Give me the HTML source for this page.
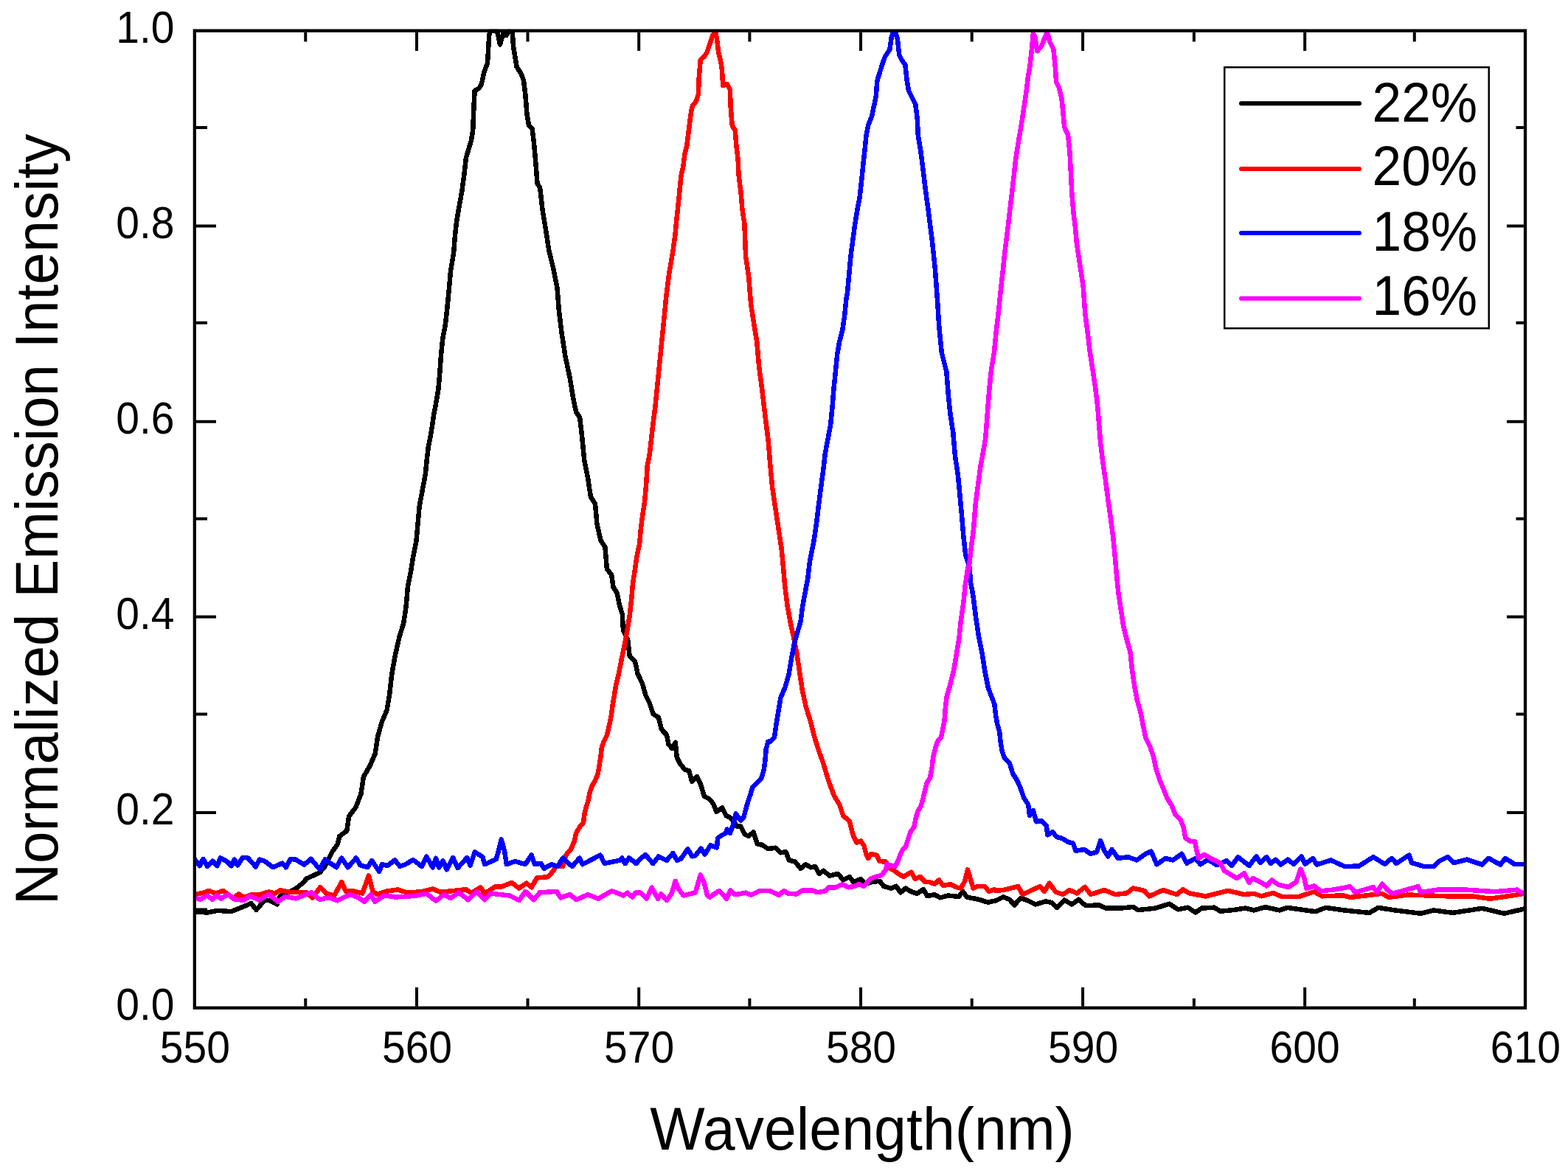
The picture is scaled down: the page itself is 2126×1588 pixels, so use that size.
<!DOCTYPE html><html><head><meta charset="utf-8"><title>Normalized Emission Intensity vs Wavelength</title>
<style>html,body{margin:0;padding:0;background:#fff;}svg{display:block;}text{font-family:"Liberation Sans",Arial,sans-serif;fill:#000;}</style></head><body>
<svg width="2126" height="1588" viewBox="0 0 2126 1588">
<rect width="2126" height="1588" fill="#fff"/>
<defs><clipPath id="pc"><rect x="263.85" y="39.65" width="1804.20" height="1327.15"/></clipPath></defs>
<g fill="none" stroke-width="6.5" stroke-linejoin="round" stroke-linecap="round" clip-path="url(#pc)" shape-rendering="crispEdges">
<path d="M264.2 1236.2L281.2 1237.6L295.3 1234.8L313.6 1236.2L323.5 1232.0L334.8 1227.7L340.4 1224.9L347.5 1234.0L358.8 1220.6L365.8 1221.3L375.7 1226.3L380.0 1215.0L401.1 1205.1L412.4 1196.0L415.2 1191.7L433.6 1183.3L440.6 1174.8L446.3 1163.5L450.5 1155.0L457.5 1145.2L460.4 1133.9L470.2 1126.8L471.7 1116.9L473.1 1107.1L482.7 1094.4L489.5 1076.3L492.9 1053.6L501.9 1037.8L508.7 1021.9L512.1 999.3L517.8 978.9L524.6 963.0L528.0 942.6L531.4 913.2L535.9 888.2L541.6 863.3L547.2 845.2L550.6 822.5L552.9 795.3L557.4 772.7L559.6 758.3L564.4 734.3L566.3 712.8L568.7 686.4L572.7 664.9L576.8 643.3L578.7 624.2L580.6 607.4L584.7 585.9L588.3 561.9L591.9 542.8L594.3 528.4L596.0 509.3L597.9 482.9L600.3 459.0L603.9 439.9L606.3 418.3L608.5 396.0L611.0 367.8L615.2 342.1L616.8 321.2L619.1 300.2L623.1 276.9L626.1 260.6L629.6 235.0L631.9 214.0L635.4 202.4L638.9 190.7L641.2 176.8L642.4 146.5L643.6 123.2L649.4 119.7L652.9 113.9L656.4 97.6L661.0 85.9L662.2 64.9L663.4 46.3L665.0 42.0L674.0 42.0L678.0 60.3L683.0 43.0L686.5 48.0L690.0 42.0L694.8 44.0L696.0 62.6L698.3 76.6L700.6 90.6L706.5 99.9L710.0 109.2L712.3 127.8L714.6 155.8L717.0 169.8L721.6 174.4L723.9 193.1L725.6 211.7L728.6 249.0L732.1 254.5L735.8 286.4L740.7 315.9L744.4 340.4L750.5 365.0L755.4 389.5L757.9 421.4L761.5 450.9L766.4 482.8L772.6 512.2L777.5 541.7L781.2 558.8L786.1 566.2L788.5 585.8L792.3 624.5L797.2 649.1L800.9 673.6L807.0 683.4L809.4 710.4L814.4 732.5L820.5 742.3L822.9 771.8L829.1 779.1L831.5 796.3L836.4 803.7L840.1 820.9L843.8 833.1L845.0 855.2L851.2 867.5L853.6 889.6L861.0 896.9L864.7 914.1L870.8 926.4L875.7 943.6L880.6 953.4L885.5 968.1L892.9 973.0L896.6 987.7L898.5 991.0L903.8 996.3L906.5 1009.5L911.1 1014.8L915.7 1006.9L917.7 1026.7L922.3 1036.0L928.9 1043.9L934.2 1045.2L938.2 1059.8L944.8 1053.2L950.1 1063.8L954.7 1079.6L962.0 1083.6L967.3 1090.2L971.3 1100.8L979.2 1095.5L984.5 1106.1L989.8 1108.7L993.8 1112.7L999.0 1120.6L1004.3 1120.6L1009.6 1131.2L1014.9 1133.9L1021.5 1128.6L1026.8 1144.4L1033.4 1145.8L1041.4 1151.0L1052.0 1149.7L1058.6 1156.3L1065.6 1155.3L1069.9 1166.6L1078.3 1168.7L1085.4 1177.9L1092.5 1172.2L1099.5 1176.4L1105.2 1175.0L1110.8 1184.9L1116.4 1180.7L1124.9 1187.7L1136.2 1184.9L1143.3 1193.4L1151.7 1189.1L1157.4 1196.2L1167.2 1192.0L1172.9 1199.0L1182.0 1196.0L1192.6 1194.8L1198.3 1201.8L1208.2 1204.7L1215.2 1201.8L1220.9 1210.3L1227.9 1204.7L1236.4 1209.6L1243.4 1211.7L1251.9 1206.1L1257.5 1215.2L1267.4 1213.1L1274.5 1217.4L1285.8 1214.5L1299.9 1216.0L1305.5 1208.9L1311.2 1216.7L1322.5 1218.8L1330.9 1220.9L1339.4 1223.7L1350.0 1221.4L1360.2 1216.4L1368.6 1219.7L1375.4 1227.4L1383.9 1218.0L1394.0 1221.4L1404.2 1226.5L1417.7 1222.3L1426.2 1224.0L1433.0 1230.7L1443.1 1220.6L1453.3 1226.5L1462.6 1219.7L1471.9 1228.2L1490.5 1227.4L1499.0 1231.6L1519.3 1231.6L1536.3 1229.9L1543.0 1234.1L1566.7 1231.6L1585.4 1225.7L1597.2 1233.3L1610.7 1230.7L1620.9 1237.5L1629.4 1231.6L1646.3 1230.7L1654.8 1235.8L1671.7 1234.1L1688.6 1231.6L1700.0 1234.4L1715.7 1230.1L1734.8 1234.4L1745.2 1230.9L1783.5 1236.2L1797.5 1230.9L1821.8 1234.4L1856.6 1237.9L1868.8 1230.9L1891.4 1234.4L1926.2 1238.8L1943.6 1234.4L1969.7 1237.9L2009.8 1231.8L2039.4 1238.8L2066.0 1232.7" stroke="#000"/>
<path d="M264.2 1212.9L278.3 1210.1L282.6 1207.9L292.5 1211.5L302.3 1207.9L316.4 1218.5L323.5 1212.2L330.6 1217.1L341.8 1212.9L350.3 1213.6L364.4 1209.4L372.9 1211.5L380.0 1207.2L394.0 1210.1L415.2 1210.1L423.7 1217.8L434.3 1203.0L442.0 1211.5L453.3 1214.3L463.2 1196.0L468.8 1208.7L480.1 1208.7L491.4 1211.5L499.9 1187.5L505.5 1208.7L511.2 1212.9L523.9 1208.7L539.4 1206.5L550.7 1210.1L569.8 1209.6L586.7 1205.4L596.6 1209.6L613.5 1208.2L631.8 1206.1L638.9 1211.0L651.6 1203.3L657.2 1211.7L671.3 1202.5L679.8 1202.5L693.9 1196.9L703.8 1204.7L713.7 1197.6L720.7 1203.3L727.8 1190.6L743.3 1189.1L750.4 1180.7L753.2 1175.0L763.1 1175.0L767.3 1159.5L774.4 1151.0L778.6 1141.2L781.4 1129.0L786.4 1121.0L791.0 1115.4L792.7 1102.9L795.0 1093.8L797.8 1084.7L800.0 1073.4L802.9 1065.5L806.3 1059.8L810.3 1050.7L812.0 1041.7L814.2 1028.0L815.9 1013.3L818.8 1005.4L822.7 997.4L824.4 990.6L826.7 980.4L829.0 969.1L830.3 958.3L832.8 943.6L835.2 928.8L838.9 914.1L842.6 894.5L846.3 877.3L849.9 857.7L853.6 835.6L856.1 813.5L858.0 791.4L861.0 771.8L863.4 754.6L867.1 737.4L868.8 717.8L871.3 698.2L874.0 681.0L876.2 656.4L877.7 631.9L880.6 617.2L884.9 579.6L888.6 549.9L892.3 512.7L896.0 475.6L899.7 438.5L903.4 401.3L907.1 371.6L912.7 338.5L915.6 317.0L917.6 295.6L919.5 278.0L921.5 258.5L923.4 238.9L926.4 225.3L928.3 209.7L931.2 197.9L933.2 182.3L935.1 166.7L937.1 151.1L939.1 143.3L943.9 137.4L946.9 127.6L947.8 104.2L949.8 80.8L954.7 76.9L958.6 71.0L962.5 59.3L966.4 47.6L970.3 42.7L972.3 55.4L974.2 71.0L977.1 82.7L979.1 96.4L980.1 115.9L985.9 114.0L989.8 121.8L990.8 147.2L992.8 170.6L996.7 176.5L998.6 199.9L1000.6 215.5L1001.5 237.0L1004.5 260.4L1006.4 283.9L1009.4 303.4L1011.1 347.7L1015.2 375.4L1018.0 411.4L1022.2 439.1L1026.3 464.0L1029.1 497.3L1033.2 527.8L1037.4 563.8L1041.6 597.0L1044.3 630.2L1047.1 660.7L1051.2 688.4L1055.4 716.1L1059.6 743.8L1061.6 764.6L1064.1 794.1L1067.5 821.1L1072.0 845.7L1076.9 867.8L1080.6 887.5L1084.2 912.0L1087.9 936.6L1092.8 958.7L1099.0 978.4L1103.9 998.0L1110.0 1017.7L1116.2 1034.9L1123.6 1059.5L1130.9 1079.1L1138.3 1091.4L1143.2 1106.2L1151.8 1113.6L1155.5 1128.3L1157.4 1134.1L1161.6 1142.6L1167.2 1140.5L1171.5 1146.8L1174.3 1158.1L1177.1 1163.7L1181.3 1158.1L1188.4 1159.5L1192.6 1168.0L1201.1 1168.7L1206.8 1177.9L1212.4 1180.7L1218.0 1184.9L1225.1 1189.1L1229.3 1186.3L1235.7 1182.8L1240.6 1192.0L1247.7 1189.1L1254.7 1196.2L1260.4 1196.2L1267.4 1199.0L1273.1 1193.4L1278.7 1201.1L1288.6 1199.0L1297.1 1203.3L1302.7 1204.7L1308.3 1194.8L1311.9 1179.3L1315.4 1190.6L1319.6 1204.7L1325.3 1201.8L1335.2 1201.8L1340.8 1208.9L1347.9 1206.1L1350.0 1207.9L1360.2 1207.0L1370.3 1204.5L1380.5 1202.0L1386.4 1213.0L1397.4 1207.9L1410.1 1202.0L1416.0 1208.7L1422.8 1197.7L1431.3 1209.6L1441.4 1213.0L1449.9 1207.0L1460.1 1211.3L1471.1 1202.8L1478.7 1213.0L1497.3 1207.0L1512.5 1213.0L1527.8 1211.3L1536.3 1204.5L1551.5 1207.9L1558.3 1215.5L1576.9 1207.0L1595.5 1213.0L1604.0 1206.2L1612.4 1211.3L1634.5 1215.5L1651.4 1211.3L1664.9 1207.9L1686.9 1213.0L1700.0 1211.8L1710.4 1215.3L1726.1 1210.9L1738.3 1216.1L1760.9 1216.1L1781.8 1209.2L1792.2 1215.3L1821.8 1214.4L1830.5 1217.0L1874.0 1211.8L1882.7 1217.0L1908.8 1213.5L1961.0 1215.3L1995.9 1215.3L2020.2 1218.8L2056.8 1213.5L2066.0 1211.8" stroke="#f00"/>
<path d="M264.2 1165.6L270.6 1174.1L275.5 1164.9L281.2 1174.8L288.2 1167.7L294.6 1174.1L298.8 1163.5L308.0 1168.4L313.6 1174.1L317.9 1165.6L322.1 1173.4L329.1 1162.8L336.2 1163.5L346.8 1175.5L351.7 1165.6L358.8 1167.7L370.1 1176.2L382.8 1170.6L387.7 1176.2L394.0 1164.9L401.1 1165.6L412.4 1172.7L421.6 1164.9L433.6 1179.0L440.6 1165.6L456.1 1176.2L463.2 1163.5L471.7 1176.2L482.9 1163.5L488.6 1173.4L498.5 1176.2L504.1 1167.0L514.0 1181.8L518.2 1172.0L525.3 1174.1L535.2 1166.3L542.2 1174.8L550.0 1172.2L559.9 1165.9L571.9 1175.0L578.2 1161.6L586.7 1176.4L590.9 1163.7L595.2 1176.4L600.8 1167.3L605.7 1179.3L614.2 1163.0L620.6 1177.1L633.3 1163.0L637.5 1173.6L643.8 1155.3L654.4 1162.3L657.2 1172.2L672.8 1165.2L677.0 1150.0L679.8 1138.3L684.0 1153.9L686.9 1172.2L698.2 1168.0L712.3 1172.2L720.7 1159.5L725.0 1172.2L733.4 1170.8L737.7 1177.9L747.5 1172.2L756.0 1175.0L763.1 1163.7L775.8 1175.0L785.6 1163.7L789.9 1172.2L813.9 1159.5L819.5 1170.8L840.0 1166.8L843.2 1163.5L847.6 1171.1L853.0 1163.5L862.7 1171.1L868.1 1164.6L875.2 1159.2L885.4 1171.1L893.0 1161.4L903.8 1166.8L912.5 1157.0L917.9 1166.8L923.3 1164.6L932.5 1151.1L938.5 1161.4L942.8 1160.3L950.4 1150.6L955.8 1158.7L963.3 1146.2L972.0 1149.5L973.1 1136.5L979.6 1132.2L983.9 1130.0L985.8 1124.6L989.8 1129.9L993.8 1119.3L997.7 1103.4L1004.3 1112.7L1008.3 1108.7L1011.0 1098.1L1013.6 1088.9L1017.6 1077.0L1020.2 1067.7L1025.5 1062.4L1032.1 1055.8L1035.4 1045.2L1037.4 1032.0L1038.7 1016.1L1041.4 1005.6L1044.9 1005.4L1049.8 1000.5L1052.3 983.3L1056.0 961.2L1058.4 946.4L1064.6 931.7L1069.5 914.5L1073.2 892.4L1077.5 870.0L1085.5 843.2L1087.9 823.6L1091.6 803.9L1095.3 784.2L1098.0 761.0L1103.4 734.1L1107.0 710.1L1109.8 686.2L1112.9 662.3L1116.1 638.4L1118.9 614.4L1122.5 595.3L1126.1 576.2L1128.5 552.2L1130.4 528.3L1132.8 504.4L1135.2 480.5L1138.1 463.7L1142.4 447.0L1145.2 427.8L1147.6 403.9L1148.9 398.0L1151.2 372.4L1153.5 346.8L1156.3 325.8L1159.1 304.9L1162.1 286.2L1165.6 267.6L1168.0 246.6L1170.3 223.3L1172.6 202.4L1174.5 183.7L1177.3 169.8L1181.9 158.1L1185.4 141.8L1187.8 130.2L1189.4 109.2L1192.4 99.9L1195.9 88.2L1200.1 76.6L1206.4 67.3L1208.7 51.0L1211.0 44.0L1214.5 44.0L1216.9 53.3L1219.2 74.3L1222.7 81.2L1227.4 88.2L1229.7 109.2L1232.0 123.2L1236.7 132.5L1241.3 141.8L1243.7 160.4L1244.8 183.7L1248.3 204.7L1251.3 228.0L1254.1 251.3L1256.5 269.9L1258.8 286.2L1261.1 304.9L1263.5 323.5L1265.8 344.5L1268.1 367.8L1269.8 390.0L1270.9 405.8L1273.4 444.6L1276.8 478.2L1283.3 504.0L1285.8 535.0L1288.4 560.9L1292.3 586.7L1294.9 617.7L1298.8 643.6L1301.3 669.4L1303.9 697.8L1306.5 728.8L1309.1 752.1L1314.7 770.0L1315.9 789.2L1319.5 808.3L1323.1 837.1L1326.7 861.0L1331.5 885.0L1335.1 908.9L1339.9 932.9L1344.1 943.9L1348.3 954.9L1350.3 971.6L1352.4 982.7L1355.2 992.4L1356.6 1006.2L1358.7 1018.7L1362.1 1028.4L1369.0 1035.3L1373.2 1049.2L1378.7 1057.5L1383.6 1068.6L1388.4 1082.4L1394.0 1090.7L1396.1 1106.0L1400.9 1099.0L1405.1 1114.3L1412.0 1112.9L1418.9 1119.8L1420.3 1132.3L1427.2 1128.1L1432.8 1135.1L1439.7 1136.8L1448.2 1141.9L1455.0 1143.5L1458.4 1153.7L1470.2 1152.0L1478.7 1157.9L1487.1 1155.4L1492.2 1140.2L1497.3 1153.7L1502.4 1161.3L1507.5 1152.0L1515.9 1163.9L1529.5 1162.2L1541.3 1166.4L1553.2 1157.9L1560.8 1154.6L1568.4 1172.3L1580.3 1163.9L1590.4 1166.4L1602.3 1157.9L1609.1 1170.6L1620.9 1163.9L1627.7 1172.3L1637.8 1165.6L1649.7 1173.2L1663.2 1167.3L1670.0 1174.0L1678.5 1162.2L1693.7 1174.0L1703.5 1161.3L1708.7 1170.0L1717.4 1162.2L1722.6 1170.9L1729.6 1165.7L1736.5 1172.6L1746.1 1165.7L1754.0 1171.8L1764.4 1161.3L1769.6 1171.8L1780.1 1163.9L1785.3 1172.6L1804.4 1166.5L1823.6 1175.2L1842.7 1174.4L1861.9 1162.2L1877.5 1171.8L1887.1 1163.9L1893.2 1170.9L1910.6 1159.6L1914.1 1170.0L1931.5 1175.2L1943.6 1175.2L1950.6 1168.3L1962.8 1162.2L1971.5 1170.0L1988.9 1165.7L2009.8 1172.6L2018.5 1163.9L2034.1 1172.6L2041.1 1163.9L2053.3 1171.8L2066.0 1171.8" stroke="#00f"/>
<path d="M264.2 1217.1L271.3 1219.9L281.2 1214.3L288.2 1219.9L293.9 1214.3L299.5 1218.5L309.4 1212.9L319.3 1219.9L330.6 1220.6L339.0 1215.0L351.7 1220.6L364.4 1212.9L377.1 1222.8L387.0 1215.7L401.1 1218.5L422.3 1210.1L433.6 1219.9L446.3 1217.1L457.5 1221.3L474.5 1212.9L485.8 1217.1L494.2 1222.8L502.7 1212.9L508.3 1222.8L521.0 1214.3L535.2 1216.4L550.0 1216.0L564.1 1214.5L578.2 1211.7L590.9 1221.6L602.2 1213.1L610.7 1218.1L622.0 1210.3L634.7 1220.2L646.0 1208.9L657.2 1220.2L665.7 1211.7L691.1 1214.5L703.8 1220.9L712.3 1208.9L723.6 1220.2L732.0 1210.3L754.6 1208.9L760.2 1217.4L772.9 1213.1L781.4 1220.2L796.9 1213.1L811.0 1218.8L829.4 1208.2L840.0 1212.2L845.4 1214.4L850.8 1210.6L857.3 1216.6L861.6 1210.6L868.1 1210.6L876.8 1218.7L883.8 1203.6L891.9 1218.7L896.3 1212.2L903.8 1220.9L910.3 1212.2L915.7 1194.9L920.1 1205.7L926.6 1214.4L942.8 1210.6L949.8 1186.3L954.7 1197.1L959.0 1214.4L962.3 1216.6L975.2 1207.9L985.0 1218.7L990.4 1207.4L996.9 1213.3L1010.9 1210.6L1018.5 1213.8L1030.4 1207.9L1043.4 1207.9L1056.4 1213.8L1062.9 1207.9L1068.5 1211.7L1079.8 1212.4L1088.2 1207.5L1102.3 1207.5L1108.0 1210.3L1119.3 1208.2L1123.5 1203.3L1133.4 1203.3L1141.8 1199.0L1150.3 1203.3L1158.8 1201.8L1164.4 1199.0L1171.5 1201.8L1179.9 1192.0L1187.0 1189.1L1195.5 1187.0L1201.1 1179.3L1202.5 1172.2L1208.2 1173.6L1213.8 1175.0L1218.0 1166.6L1220.9 1158.1L1224.0 1152.0L1227.7 1148.9L1231.2 1137.8L1234.6 1128.1L1239.5 1121.2L1241.6 1110.1L1244.3 1100.4L1248.5 1093.5L1251.3 1083.8L1254.0 1072.7L1256.8 1061.6L1261.0 1054.7L1263.7 1040.9L1265.1 1027.0L1267.9 1015.9L1270.7 1006.2L1276.2 999.3L1278.3 988.2L1280.4 978.5L1281.8 960.5L1283.6 944.9L1288.4 928.1L1293.2 908.9L1296.8 887.4L1300.4 865.8L1302.8 841.9L1306.3 817.9L1308.7 794.0L1312.3 770.0L1313.0 775.3L1316.3 746.9L1320.2 715.9L1322.8 682.3L1325.9 659.1L1329.3 633.2L1333.1 612.6L1336.2 594.5L1338.8 560.9L1341.4 527.3L1344.0 501.4L1347.9 478.2L1350.4 452.4L1354.3 418.8L1356.9 392.9L1359.6 368.8L1362.1 344.3L1364.6 324.6L1367.0 305.0L1369.5 282.9L1371.9 263.2L1374.4 241.1L1376.8 219.1L1379.3 201.9L1381.7 187.1L1384.2 172.4L1386.6 157.7L1389.1 140.5L1391.6 123.3L1394.0 103.7L1396.5 88.9L1398.9 66.8L1400.9 44.7L1403.3 49.6L1406.3 69.3L1412.4 61.9L1416.1 52.1L1419.8 43.5L1423.5 57.0L1428.4 66.8L1430.8 91.4L1432.1 111.0L1435.8 118.4L1439.4 133.1L1441.9 157.7L1443.1 172.4L1448.0 182.2L1450.5 206.8L1451.7 231.3L1453.4 263.2L1455.4 287.8L1457.8 307.4L1459.8 329.5L1462.8 349.2L1465.7 368.8L1468.8 390.0L1471.3 425.2L1474.6 450.4L1477.6 475.6L1481.4 500.8L1485.2 525.9L1488.2 551.1L1490.2 576.3L1492.2 601.5L1495.3 626.7L1499.0 651.9L1502.3 677.1L1505.8 702.3L1509.1 727.5L1511.6 752.6L1514.0 780.0L1516.3 803.3L1519.8 826.6L1523.3 849.9L1528.0 868.5L1532.6 884.8L1534.9 908.1L1538.4 931.4L1541.9 950.0L1546.6 966.4L1550.1 985.0L1553.6 1001.3L1559.4 1012.9L1564.1 1026.9L1567.6 1043.2L1572.2 1057.2L1578.0 1071.2L1582.7 1082.8L1588.5 1092.1L1593.2 1103.8L1600.2 1110.8L1604.8 1122.4L1607.2 1136.4L1614.1 1141.1L1620.0 1141.1L1622.6 1153.7L1625.1 1163.9L1632.8 1158.8L1641.2 1163.9L1648.0 1167.3L1654.8 1170.6L1659.9 1180.8L1668.3 1185.9L1676.8 1191.0L1686.9 1184.2L1693.7 1196.9L1698.8 1191.0L1708.7 1196.1L1717.4 1201.4L1724.4 1193.5L1733.1 1199.6L1747.0 1203.1L1757.4 1196.1L1763.5 1178.7L1767.9 1189.2L1771.4 1204.8L1781.8 1201.4L1790.5 1208.3L1807.9 1206.6L1821.8 1204.0L1830.5 1202.2L1837.5 1210.1L1861.9 1203.1L1867.1 1210.1L1874.0 1198.7L1881.0 1206.6L1888.0 1211.8L1922.8 1202.2L1926.2 1210.1L1948.9 1206.6L1987.2 1206.6L2027.2 1209.2L2056.8 1206.6L2066.0 1211.8" stroke="#f0f"/>
</g>
<rect x="263.85" y="41.65" width="1804.20" height="1325.15" fill="none" stroke="#000" stroke-width="4.3"/>
<path d="M414.25 1364.65V1354M414.25 43.80V56.4M565.00 1364.65V1339M565.00 43.80V69M715.50 1364.65V1354M715.50 43.80V56.4M866.20 1364.65V1339M866.20 43.80V69M1016.40 1364.65V1354M1016.40 43.80V56.4M1167.05 1364.65V1339M1167.05 43.80V69M1317.70 1364.65V1354M1317.70 43.80V56.4M1468.10 1364.65V1339M1468.10 43.80V69M1618.90 1364.65V1354M1618.90 43.80V56.4M1769.20 1364.65V1339M1769.20 43.80V69M1917.80 1364.65V1354M1917.80 43.80V56.4M266.00 1233.60H281M2065.90 1233.60H2055.5M266.00 1101.90H293M2065.90 1101.90H2043M266.00 968.40H281M2065.90 968.40H2055.5M266.00 836.60H293M2065.90 836.60H2043M266.00 703.40H281M2065.90 703.40H2055.5M266.00 571.80H293M2065.90 571.80H2043M266.00 437.80H281M2065.90 437.80H2055.5M266.00 306.60H293M2065.90 306.60H2043M266.00 173.00H281M2065.90 173.00H2055.5" stroke="#000" stroke-width="4" fill="none"/>
<text transform="translate(264.4 1440.5) scale(0.935,1)" font-size="61" text-anchor="middle">550</text>
<text transform="translate(565.5 1440.5) scale(0.935,1)" font-size="61" text-anchor="middle">560</text>
<text transform="translate(866.7 1440.5) scale(0.935,1)" font-size="61" text-anchor="middle">570</text>
<text transform="translate(1167.5 1440.5) scale(0.935,1)" font-size="61" text-anchor="middle">580</text>
<text transform="translate(1468.6 1440.5) scale(0.935,1)" font-size="61" text-anchor="middle">590</text>
<text transform="translate(1769.1 1440.5) scale(0.935,1)" font-size="61" text-anchor="middle">600</text>
<text transform="translate(2068.4 1440.5) scale(0.935,1)" font-size="61" text-anchor="middle">610</text>
<text transform="translate(236.5 1383.3) scale(0.935,1)" font-size="61" text-anchor="end">0.0</text>
<text transform="translate(236.5 1118.4) scale(0.935,1)" font-size="61" text-anchor="end">0.2</text>
<text transform="translate(236.5 853.1) scale(0.935,1)" font-size="61" text-anchor="end">0.4</text>
<text transform="translate(236.5 588.3) scale(0.935,1)" font-size="61" text-anchor="end">0.6</text>
<text transform="translate(236.5 323.1) scale(0.935,1)" font-size="61" text-anchor="end">0.8</text>
<text transform="translate(236.5 58.1) scale(0.935,1)" font-size="61" text-anchor="end">1.0</text>
<text transform="translate(1169 1559.2) scale(0.974,1)" font-size="81" text-anchor="middle">Wavelength(nm)</text>
<text transform="translate(77.8 704.5) rotate(-90) scale(0.958,1)" font-size="81.5" text-anchor="middle">Normalized Emission Intensity</text>
<rect x="1660.25" y="91.25" width="358.5" height="354" fill="#fff" stroke="#000" stroke-width="2.5"/>
<path d="M1683 140.3H1843" stroke="#000" stroke-width="6" stroke-linecap="round"/>
<text transform="translate(1860.5 164.6) scale(0.932,1)" font-size="76.5">22%</text>
<path d="M1683 229.1H1843" stroke="#f00" stroke-width="6" stroke-linecap="round"/>
<text transform="translate(1860.5 250.8) scale(0.932,1)" font-size="76.5">20%</text>
<path d="M1683 316H1843" stroke="#00f" stroke-width="6" stroke-linecap="round"/>
<text transform="translate(1860.5 339.8) scale(0.932,1)" font-size="76.5">18%</text>
<path d="M1683 404.7H1843" stroke="#f0f" stroke-width="6" stroke-linecap="round"/>
<text transform="translate(1860.5 426.5) scale(0.932,1)" font-size="76.5">16%</text>
</svg></body></html>
